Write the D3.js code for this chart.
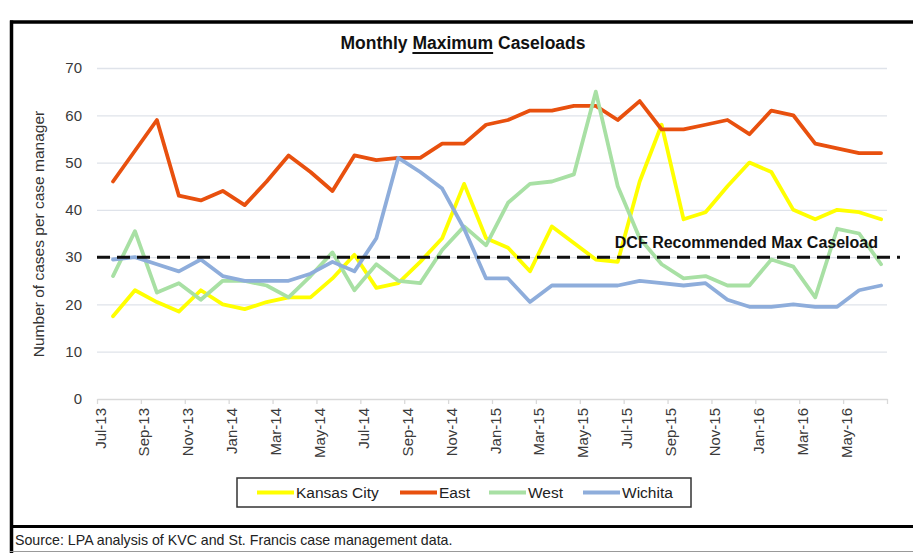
<!DOCTYPE html>
<html>
<head>
<meta charset="utf-8">
<script src="https://cdn.jsdelivr.net/npm/d3@7/dist/d3.min.js"></script>
<style>
  body { margin: 0; background: #fff; }
  text { font-family: "Liberation Sans", Arial, sans-serif; }
</style>
</head>
<body>
<script>
var months = ["Jul-13","Aug-13","Sep-13","Oct-13","Nov-13","Dec-13",
              "Jan-14","Feb-14","Mar-14","Apr-14","May-14","Jun-14",
              "Jul-14","Aug-14","Sep-14","Oct-14","Nov-14","Dec-14",
              "Jan-15","Feb-15","Mar-15","Apr-15","May-15","Jun-15",
              "Jul-15","Aug-15","Sep-15","Oct-15","Nov-15","Dec-15",
              "Jan-16","Feb-16","Mar-16","Apr-16","May-16","Jun-16"];

var kansasCity = [17.5,23,20.5,18.5,23,20,19,20.5,21.5,21.5,25.5,30.5,
                  23.5,24.5,29,34,45.5,34,32,27,36.5,33,29.5,29,
                  46,58,38,39.5,45,50,48,40,38,40,39.5,38];
var east = [46,52.5,59,43,42,44,41,46,51.5,48,44,51.5,
            50.5,51,51,54,54,58,59,61,61,62,62,59,
            63,57,57,58,59,56,61,60,54,53,52,52];
var west = [26,35.5,22.5,24.5,21,25,25,24,21.5,26,31,23,
            28.5,25,24.5,31.5,36.5,32.5,41.5,45.5,46,47.5,65,45,
            34,28.5,25.5,26,24,24,29.5,28,21.5,36,35,28.5];
var wichita = [29.5,30,28.5,27,29.5,26,25,25,25,26.5,29,27,
               34,51,48,44.5,36,25.5,25.5,20.5,24,24,24,24,
               25,24.5,24,24.5,21,19.5,19.5,20,19.5,19.5,23,24];

var seriesNames = ["Kansas City","East","West","Wichita"];
var seriesColors = ["#ffff00","#e8500e","#a8e0a4","#8eaddb"];
var seriesData = [kansasCity, east, west, wichita];
var yTicks = [0,10,20,30,40,50,60,70];
var recommendedMax = 30;

var W = 913, H = 553;
var svg = d3.select("body").append("svg")
    .attr("width", W).attr("height", H);

svg.append("rect").attr("width", W).attr("height", H).attr("fill", "#fff");

// frame
svg.append("line").attr("x1", 11.5).attr("x2", 11.5).attr("y1", 20.5).attr("y2", H)
    .attr("stroke", "#000").attr("stroke-width", 3.5);
svg.append("line").attr("x1", 10).attr("x2", W).attr("y1", 22).attr("y2", 22)
    .attr("stroke", "#000").attr("stroke-width", 3.5);
svg.append("line").attr("x1", 10).attr("x2", W).attr("y1", 526.5).attr("y2", 526.5)
    .attr("stroke", "#000").attr("stroke-width", 3);
svg.append("line").attr("x1", 10).attr("x2", W).attr("y1", 551.5).attr("y2", 551.5)
    .attr("stroke", "#999").attr("stroke-width", 1);

var x = d3.scaleLinear().domain([-0.73, 35.27]).range([97, 887]);
var y = d3.scaleLinear().domain([0, 70]).range([399, 68]);

// gridlines
svg.append("g")
    .attr("transform", "translate(97,0)")
    .call(d3.axisLeft(y).tickValues(yTicks.slice(1)).tickSize(-790).tickFormat(""))
    .call(function(g) {
        g.select(".domain").remove();
        g.selectAll("line").attr("stroke", "#dfe3ea").attr("stroke-width", 1.3);
    });

// y axis labels
svg.append("g")
    .attr("transform", "translate(97,0)")
    .call(d3.axisLeft(y).tickValues(yTicks).tickSize(0).tickPadding(15))
    .call(function(g) {
        g.select(".domain").remove();
        g.selectAll("text")
            .attr("font-size", "15px")
            .attr("fill", "#3a3a3a")
            .attr("font-family", "Liberation Sans, Arial, sans-serif");
    });

// x axis
var tickVals = d3.range(0, 37, 2).map(function(i) { return i - 0.73; });
svg.append("g")
    .attr("transform", "translate(0,399)")
    .call(d3.axisBottom(x).tickValues(tickVals).tickSize(5).tickSizeOuter(0)
        .tickFormat(function(d) {
            var i = Math.round(d + 0.73);
            return i < months.length ? months[i] : "";
        }))
    .call(function(g) {
        g.select(".domain").attr("stroke", "#d9d9d9").attr("stroke-width", 1.3);
        g.selectAll(".tick line").attr("stroke", "#d9d9d9").attr("stroke-width", 1.3);
        g.selectAll("text")
            .attr("font-size", "15px")
            .attr("fill", "#3a3a3a")
            .attr("font-family", "Liberation Sans, Arial, sans-serif")
            .attr("text-anchor", "end")
            .attr("transform", "rotate(-90)")
            .attr("x", -9)
            .attr("y", 8)
            .attr("dy", 0);
    });

// lines
var line = d3.line()
    .x(function(d, i) { return x(i); })
    .y(function(d) { return y(d); });

svg.selectAll("path.series")
    .data(seriesData)
    .enter()
    .append("path")
    .attr("class", "series")
    .attr("d", line)
    .attr("fill", "none")
    .attr("stroke", function(d, i) { return seriesColors[i]; })
    .attr("stroke-width", 3.8)
    .attr("stroke-linejoin", "round")
    .attr("stroke-linecap", "round");

// recommended max
svg.append("line")
    .attr("x1", 97).attr("x2", 900)
    .attr("y1", y(recommendedMax)).attr("y2", y(recommendedMax))
    .attr("stroke", "#111").attr("stroke-width", 3)
    .attr("stroke-dasharray", "13,7");

svg.append("text")
    .attr("x", 878).attr("y", y(recommendedMax) - 9)
    .attr("text-anchor", "end")
    .attr("font-size", "16px")
    .attr("font-weight", "bold")
    .attr("fill", "#111")
    .text("DCF Recommended Max Caseload");

// title
var title = svg.append("text")
    .attr("x", 463).attr("y", 49)
    .attr("text-anchor", "middle")
    .attr("font-size", "17.5px")
    .attr("font-weight", "bold")
    .attr("fill", "#111");
title.append("tspan").text("Monthly ");
title.append("tspan").text("Maximum");
title.append("tspan").text(" Caseloads");
var tn = title.node();
var ux0 = tn.getStartPositionOfChar(8).x;
var ux1 = tn.getEndPositionOfChar(14).x;
svg.append("line").attr("x1", ux0).attr("x2", ux1).attr("y1", 53).attr("y2", 53)
    .attr("stroke", "#111").attr("stroke-width", 2);

// y axis title
svg.append("text")
    .attr("transform", "translate(44,234) rotate(-90)")
    .attr("text-anchor", "middle")
    .attr("font-size", "15.5px")
    .attr("fill", "#333")
    .text("Number of cases per case manager");

// legend
var legend = svg.append("g").attr("transform", "translate(237,478)");
legend.append("rect")
    .attr("width", 454).attr("height", 29)
    .attr("fill", "#fff").attr("stroke", "#333").attr("stroke-width", 1.5);
var legendX = [20, 163, 252, 346];
var item = legend.selectAll("g.item")
    .data(seriesNames)
    .enter()
    .append("g")
    .attr("class", "item")
    .attr("transform", function(d, i) { return "translate(" + legendX[i] + ",14.5)"; });
item.append("line")
    .attr("x1", 0).attr("x2", 37)
    .attr("stroke", function(d, i) { return seriesColors[i]; })
    .attr("stroke-width", 3.8);
item.append("text")
    .attr("x", 39).attr("dy", "0.35em")
    .attr("font-size", "15.5px")
    .attr("fill", "#222")
    .text(function(d) { return d; });

// source
svg.append("text")
    .attr("x", 15).attr("y", 545)
    .attr("font-size", "14.2px")
    .attr("fill", "#222")
    .text("Source: LPA analysis of KVC and St. Francis case management data.");
</script>
</body>
</html>
